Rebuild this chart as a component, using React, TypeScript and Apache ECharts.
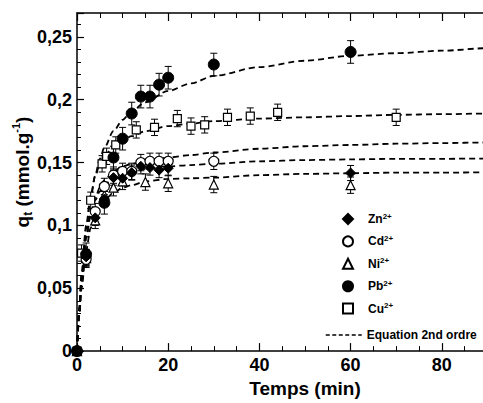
import React, { useEffect, useRef } from "react";
import * as echarts from "echarts";

// Measured points (time in min, q in mmol/g)
const ZN_T = [0, 2, 4, 6, 8, 10, 12, 14, 16, 18, 20, 60];
const ZN_Q = [0, 0.075, 0.106, 0.121, 0.138, 0.1375, 0.142, 0.147, 0.146, 0.144, 0.1455, 0.1417];
const CD_T = [0, 2, 4, 6, 8, 10, 12, 14, 16, 18, 20, 30];
const CD_Q = [0, 0.073, 0.111, 0.131, 0.14, 0.143, 0.143, 0.15, 0.151, 0.151, 0.151, 0.151];
const NI_T = [0, 2, 4, 6, 8, 10, 15, 20, 30, 60];
const NI_Q = [0, 0.074, 0.104, 0.124, 0.13, 0.135, 0.1345, 0.1335, 0.1325, 0.132];
const PB_T = [0, 2, 6, 8, 10, 12, 14, 16, 18, 20, 30, 60];
const PB_Q = [0, 0.077, 0.118, 0.154, 0.169, 0.189, 0.2025, 0.2025, 0.212, 0.2175, 0.228, 0.238];
const CU_T = [0, 1, 3, 5.5, 6.5, 8.5, 13, 17, 22, 25, 28, 33, 38, 44, 70];
const CU_Q = [0, 0.078, 0.12, 0.149, 0.155, 0.164, 0.176, 0.178, 0.185, 0.179, 0.18, 0.186, 0.187, 0.19, 0.186];

// Error bar half-heights
const ERR_ZN = 0.006;
const ERR_CD = 0.0065;
const ERR_NI = 0.0065;
const ERR_PB = 0.009;
const ERR_CU = 0.0065;

// Fitted 2nd order curves
const FIT_T = [0, 0.5, 1, 2, 3, 4, 5, 6, 8, 10, 12, 15, 20, 25, 30, 40, 50, 60, 70, 80, 90, 100];
const FIT_PB = [0, 0.035, 0.06, 0.097, 0.122, 0.14, 0.153, 0.162, 0.175, 0.184, 0.191, 0.198, 0.207, 0.213, 0.219, 0.226, 0.231, 0.235, 0.237, 0.239, 0.241, 0.242];
const FIT_CU = [0, 0.035, 0.062, 0.1, 0.124, 0.139, 0.149, 0.155, 0.163, 0.168, 0.171, 0.175, 0.179, 0.181, 0.183, 0.185, 0.186, 0.187, 0.188, 0.1885, 0.189, 0.189];
const FIT_A = [0, 0.03, 0.055, 0.09, 0.11, 0.122, 0.13, 0.136, 0.143, 0.147, 0.149, 0.151, 0.154, 0.156, 0.158, 0.161, 0.163, 0.164, 0.165, 0.1655, 0.166, 0.1665];
const FIT_B = [0, 0.03, 0.055, 0.09, 0.108, 0.12, 0.127, 0.132, 0.138, 0.141, 0.143, 0.145, 0.147, 0.148, 0.149, 0.151, 0.152, 0.1525, 0.153, 0.153, 0.1532, 0.1535];
const FIT_C = [0, 0.028, 0.05, 0.08, 0.098, 0.108, 0.115, 0.12, 0.126, 0.13, 0.132, 0.135, 0.137, 0.1375, 0.138, 0.14, 0.141, 0.1415, 0.142, 0.142, 0.1422, 0.1425];

const X_TICKS_INTERVAL = 20;
const Y_TICKS_INTERVAL = 0.05;

const FIT_NAME = "Equation 2nd ordre";
const ION_NAMES = ["Zn2+", "Cd2+", "Ni2+", "Pb2+", "Cu2+"];

const FONT = "Liberation Sans";

export default function App() {
  const ref = useRef<HTMLDivElement>(null);
  useEffect(() => {
    if (!ref.current) return;
    const chart = echarts.init(ref.current, undefined, { renderer: "svg" });

    const pts = (T: number[], Q: number[], e: number) => T.map((t, i) => [t, Q[i], Q[i] === 0 ? 0 : e]);

    const scatter = (name: string, T: number[], Q: number[], e: number, symbol: string, size: number, filled: boolean) => ({
      type: "scatter",
      name,
      data: pts(T, Q, e),
      symbol,
      symbolSize: size,
      z: 5,
      itemStyle: filled
        ? { color: "#000", borderColor: "#000", borderWidth: 1, opacity: 1 }
        : { color: "#fff", borderColor: "#000", borderWidth: 1.2, opacity: 1 },
    });

    const errBars = (name: string, T: number[], Q: number[], e: number) => ({
      type: "custom",
      name: "err-" + name,
      data: pts(T, Q, e),
      encode: { x: 0, y: 1 },
      z: 4,
      renderItem: (params: any, api: any) => {
        const x = api.value(0);
        const y = api.value(1);
        const er = api.value(2);
        if (!er) return { type: "group", children: [] };
        const p1 = api.coord([x, y + er]);
        const p2 = api.coord([x, y - er]);
        const w = 3.5;
        const st = { stroke: "#000", lineWidth: 1 };
        return {
          type: "group",
          children: [
            { type: "line", shape: { x1: p1[0], y1: p1[1], x2: p2[0], y2: p2[1] }, style: st },
            { type: "line", shape: { x1: p1[0] - w, y1: p1[1], x2: p1[0] + w, y2: p1[1] }, style: st },
            { type: "line", shape: { x1: p2[0] - w, y1: p2[1], x2: p2[0] + w, y2: p2[1] }, style: st },
          ],
        };
      },
    });

    const fit = (V: number[]) => ({
      type: "line",
      name: FIT_NAME,
      data: FIT_T.map((t, i) => [t, V[i]]),
      symbol: "none",
      showSymbol: false,
      smooth: 0.3,
      smoothMonotone: "x",
      z: 3,
      lineStyle: { color: "#000", width: 1.8, type: [6, 4] },
      itemStyle: { color: "#000" },
    });

    const legendFmt: Record<string, string> = {
      "Zn2+": "{t|Zn}{s|2+}",
      "Cd2+": "{t|Cd}{s|2+}",
      "Ni2+": "{t|Ni}{s|2+}",
      "Pb2+": "{t|Pb}{s|2+}",
      "Cu2+": "{t|Cu}{s|2+}",
    };
    legendFmt[FIT_NAME] = "{t|" + FIT_NAME + "}";

    const legendText = {
      color: "#000",
      fontFamily: FONT,
      fontWeight: "bold",
      fontSize: 12,
      rich: {
        t: { color: "#000", fontFamily: FONT, fontWeight: "bold", fontSize: 12, lineHeight: 14 },
        s: { color: "#000", fontFamily: FONT, fontWeight: "bold", fontSize: 8, lineHeight: 8, verticalAlign: "top" },
      },
    };

    const axisCommon = {
      type: "value",
      axisLine: { show: true, lineStyle: { color: "#000", width: 1.5 } },
      splitLine: { show: false },
    };

    chart.setOption({
      animation: false,
      backgroundColor: "#fff",
      grid: { left: 77, top: 13, bottom: 46, right: 27 },
      xAxis: [
        {
          ...axisCommon,
          min: 0,
          max: 100,
          interval: X_TICKS_INTERVAL,
          position: "bottom",
          axisTick: { show: true, inside: true, length: 8, lineStyle: { color: "#000", width: 1.2 } },
          minorTick: { show: true, splitNumber: 4, length: 5, lineStyle: { color: "#000", width: 1 } },
          axisLabel: { color: "#000", fontFamily: FONT, fontWeight: "bold", fontSize: 18, margin: 5, showMaxLabel: false },
          name: "Temps (min)",
          nameLocation: "middle",
          nameGap: 27,
          nameTextStyle: { color: "#000", fontFamily: FONT, fontWeight: "bold", fontSize: 19 },
        },
        {
          ...axisCommon,
          min: 0,
          max: 100,
          interval: X_TICKS_INTERVAL,
          position: "top",
          axisTick: { show: true, inside: true, length: 8, lineStyle: { color: "#000", width: 1.2 } },
          minorTick: { show: true, splitNumber: 4, length: 5, lineStyle: { color: "#000", width: 1 } },
          axisLabel: { show: false },
        },
      ],
      yAxis: {
        ...axisCommon,
        min: 0,
        max: 0.269,
        interval: Y_TICKS_INTERVAL,
        axisTick: { show: true, inside: true, length: 7, lineStyle: { color: "#000", width: 1.2 } },
        minorTick: { show: true, splitNumber: 5, length: 4, lineStyle: { color: "#000", width: 1 } },
        axisLabel: {
          color: "#000",
          fontFamily: FONT,
          fontWeight: "bold",
          fontSize: 18,
          margin: 5,
          showMaxLabel: false,
          formatter: (v: number) => (v === 0 ? "0" : String(Math.round(v * 100) / 100).replace(".", ",")),
        },
      },
      legend: [
        {
          data: ION_NAMES,
          orient: "vertical",
          left: 342,
          top: 212,
          itemWidth: 10,
          itemHeight: 10,
          itemGap: 9.4,
          padding: 0,
          selectedMode: false,
          formatter: (n: string) => legendFmt[n] || n,
          textStyle: { ...legendText, padding: [0, 0, 0, 10] },
        },
        {
          data: [{ name: FIT_NAME, itemStyle: { color: "transparent", borderWidth: 0, opacity: 0 } }],
          orient: "vertical",
          left: 325,
          top: 329,
          itemWidth: 36,
          itemHeight: 10,
          padding: 0,
          selectedMode: false,
          formatter: (n: string) => legendFmt[n] || n,
          textStyle: legendText,
          lineStyle: { color: "#000", width: 1.5, type: [4, 2.5] },
        },
      ],
      graphic: [
        {
          type: "text",
          x: 22,
          y: 172,
          rotation: Math.PI / 2,
          style: {
            text: "{b|q}{sb|t}{b| (mmol.g}{sp|-1}{b|)}",
            align: "center",
            verticalAlign: "middle",
            fill: "#000",
            fontFamily: FONT,
            fontWeight: "bold",
            fontSize: 19,
            rich: {
              b: { fill: "#000", fontFamily: FONT, fontWeight: "bold", fontSize: 19, lineHeight: 24 },
              sb: { fill: "#000", fontFamily: FONT, fontWeight: "bold", fontSize: 12, lineHeight: 12, verticalAlign: "bottom" },
              sp: { fill: "#000", fontFamily: FONT, fontWeight: "bold", fontSize: 11, lineHeight: 11, verticalAlign: "top" },
            },
          },
        },
      ],
      series: [
        fit(FIT_PB),
        fit(FIT_CU),
        fit(FIT_A),
        fit(FIT_B),
        fit(FIT_C),
        errBars("Zn2+", ZN_T, ZN_Q, ERR_ZN),
        errBars("Cd2+", CD_T, CD_Q, ERR_CD),
        errBars("Ni2+", NI_T, NI_Q, ERR_NI),
        errBars("Pb2+", PB_T, PB_Q, ERR_PB),
        errBars("Cu2+", CU_T, CU_Q, ERR_CU),
        scatter("Cu2+", CU_T, CU_Q, ERR_CU, "rect", 8, false),
        scatter("Ni2+", NI_T, NI_Q, ERR_NI, "triangle", 9, false),
        scatter("Cd2+", CD_T, CD_Q, ERR_CD, "circle", 10, false),
        scatter("Zn2+", ZN_T, ZN_Q, ERR_ZN, "diamond", 10, true),
        scatter("Pb2+", PB_T, PB_Q, ERR_PB, "circle", 11, true),
      ],
    });
    return () => chart.dispose();
  }, []);
  return (
    <div style={{ position: "absolute", left: 0, top: 0, width: 483, height: 403, overflow: "hidden", background: "#fff" }}>
      <div ref={ref} style={{ width: 560, height: 403 }} />
    </div>
  );
}
